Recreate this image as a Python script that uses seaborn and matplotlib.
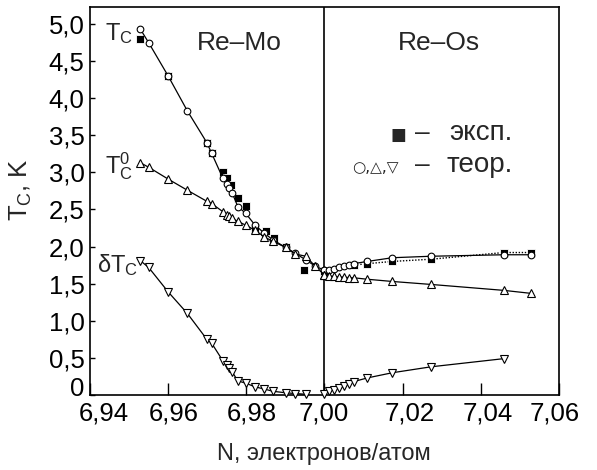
import matplotlib
matplotlib.use("Agg")
import matplotlib.pyplot as plt
import matplotlib.transforms as mtransforms
from matplotlib.ticker import FixedLocator, FuncFormatter
import seaborn as sns

# ---- data: Re-Mo side (N < 7) ----
n_mo = [6.9530, 6.9551, 6.9601, 6.9650, 6.9700, 6.9712, 6.9741, 6.9751, 6.9756,
        6.9765, 6.9779, 6.9799, 6.9823, 6.9847, 6.9869, 6.9901, 6.9926, 6.9953,
        6.9976, 7.0000]
tc_mo = [4.93, 4.75, 4.30, 3.83, 3.40, 3.26, 2.92, 2.85, 2.79, 2.72, 2.54, 2.45,
         2.29, 2.18, 2.09, 1.99, 1.91, 1.82, 1.74, 1.68]
tc0_mo = [3.13, 3.07, 2.91, 2.76, 2.61, 2.58, 2.47, 2.43, 2.41, 2.38, 2.34, 2.29,
          2.22, 2.13, 2.07, 1.99, 1.90, 1.87, 1.74, 1.62]
n_dtc_mo = [6.9530, 6.9551, 6.9601, 6.9650, 6.9700, 6.9712, 6.9741, 6.9751, 6.9756,
            6.9765, 6.9779, 6.9799, 6.9823, 6.9847, 6.9869, 6.9901, 6.9926, 6.9953]
dtc_mo = [1.81, 1.72, 1.39, 1.10, 0.75, 0.70, 0.46, 0.40, 0.36, 0.31, 0.19, 0.16,
          0.11, 0.08, 0.05, 0.03, 0.02, 0.01]

# ---- data: Re-Os side (N > 7) ----
n_os = [7.0000, 7.0013, 7.0025, 7.0038, 7.0051, 7.0064, 7.0075, 7.0110, 7.0174,
        7.0273, 7.0459, 7.0528]
tc_os = [1.68, 1.68, 1.70, 1.72, 1.74, 1.75, 1.77, 1.80, 1.85, 1.87, 1.89, 1.89]
tc0_os = [1.62, 1.60, 1.60, 1.59, 1.59, 1.58, 1.58, 1.56, 1.53, 1.49, 1.41, 1.37]
n_dtc_os = [7.0000, 7.0013, 7.0025, 7.0038, 7.0051, 7.0064, 7.0075, 7.0110, 7.0174,
            7.0273, 7.0459]
dtc_os = [0.02, 0.05, 0.07, 0.09, 0.12, 0.15, 0.18, 0.23, 0.30, 0.38, 0.49]

# ---- experimental Tc ----
n_exp_mo = [6.9530, 6.9601, 6.9700, 6.9712, 6.9741, 6.9751, 6.9762, 6.9779, 6.9799,
            6.9823, 6.9851, 6.9871, 6.9901, 6.9949]
tc_exp_mo = [4.80, 4.30, 3.40, 3.26, 3.01, 2.92, 2.83, 2.66, 2.55, 2.25, 2.21, 2.11,
             2.00, 1.69]
n_exp_os = [7.0000, 7.0075, 7.0110, 7.0174, 7.0273, 7.0459, 7.0528]
tc_exp_os = [1.67, 1.75, 1.77, 1.80, 1.83, 1.92, 1.92]

x_ticks = [6.94, 6.96, 6.98, 7.00, 7.02, 7.04, 7.06]
y_ticks = [0, 0.5, 1.0, 1.5, 2.0, 2.5, 3.0, 3.5, 4.0, 4.5, 5.0]

sns.set_style("ticks")
plt.rcParams["font.family"] = ["Liberation Sans", "DejaVu Sans"]
plt.rcParams["mathtext.fontset"] = "custom"
plt.rcParams["mathtext.rm"] = "Liberation Sans"
plt.rcParams["mathtext.it"] = "Liberation Sans:italic"

fig = plt.figure(figsize=(5.97, 4.70), dpi=100)
W, H = 597, 470
ax = fig.add_axes([89.5 / W, 75 / H, (559 - 89.5) / W, (395 - 6.7) / H])

sq_kw = dict(marker="s", color="black", markersize=6.3, markeredgewidth=0.6)

# experimental points (under the theoretical ones)
sns.lineplot(x=n_exp_mo, y=tc_exp_mo, ax=ax, linestyle="none", sort=False,
             zorder=2, **sq_kw)
sns.lineplot(x=n_exp_os, y=tc_exp_os, ax=ax, linestyle=(0, (1, 1.2)), lw=1.0,
             sort=False, zorder=2, **sq_kw)

line_kw = dict(color="black", lw=0.9, markerfacecolor="white",
               markeredgecolor="black", markeredgewidth=0.8, sort=False, zorder=3)

for xs, ys in [(n_mo, tc_mo), (n_os, tc_os)]:
    sns.lineplot(x=xs, y=ys, ax=ax, marker="o", markersize=4.8, **line_kw)
for xs, ys in [(n_mo, tc0_mo), (n_os, tc0_os)]:
    sns.lineplot(x=xs, y=ys, ax=ax, marker="^", markersize=5.8, **line_kw)
for xs, ys in [(n_dtc_mo, dtc_mo), (n_dtc_os, dtc_os)]:
    sns.lineplot(x=xs, y=ys, ax=ax, marker="v", markersize=5.8, clip_on=False,
                 **line_kw)

ax.axvline(7.0, color="black", lw=1.2, zorder=1)

ax.set_xlim(6.94, 7.06)
ax.set_ylim(0, 5.233)

for s in ax.spines.values():
    s.set_visible(True)
    s.set_linewidth(1.2)
    s.set_color("black")

ax.xaxis.set_major_locator(FixedLocator(x_ticks))
ax.yaxis.set_major_locator(FixedLocator(y_ticks))
ax.xaxis.set_major_formatter(FuncFormatter(lambda v, p: f"{v:.2f}".replace(".", ",")))
ax.yaxis.set_major_formatter(
    FuncFormatter(lambda v, p: "0" if abs(v) < 1e-9 else f"{v:.1f}".replace(".", ",")))
ax.tick_params(axis="x", direction="in", length=8.6, width=1.0, labelsize=18.5,
               pad=5, colors="black", top=False)
ax.tick_params(axis="y", direction="in", length=3.6, width=1.0, labelsize=18.5,
               pad=3.5, colors="black", right=False)

ax.set_xlabel("N, электронов/атом", fontsize=17, labelpad=12)
ax.set_ylabel(r"$\mathregular{T_C}$, K", fontsize=18.5, labelpad=2)
ax.yaxis.set_label_coords(-0.118, 0.53)

# curve labels
ax.text(6.9439, 4.78, r"$\mathregular{T_C}$", fontsize=17, ha="left", va="baseline")
ax.text(6.9439, 2.99, r"$\mathregular{T_C^0}$", fontsize=17, ha="left", va="baseline")
ax.text(6.9420, 1.66, r"$\mathregular{δT_C}$", fontsize=17, ha="left", va="baseline")

# alloy systems
ax.text(6.9784, 4.65, "Re–Mo", fontsize=19, ha="center", va="baseline")
ax.text(7.0293, 4.65, "Re–Os", fontsize=19, ha="center", va="baseline")

# symbol key
ax.text(7.0189, 3.44, "■", fontsize=12, ha="center", va="baseline",
        family=["DejaVu Sans"])
ax.text(7.0250, 3.44, "–", fontsize=19, ha="center", va="baseline")
ax.text(7.0319, 3.44, "эксп.", fontsize=20, ha="left", va="baseline")
ax.text(7.0191, 3.01, "○,△,▽", fontsize=11, ha="right", va="baseline",
        family=["DejaVu Sans"])
ax.text(7.0250, 3.01, "–", fontsize=19, ha="center", va="baseline")
ax.text(7.0313, 3.01, "теор.", fontsize=20, ha="left", va="baseline")

# small per-label nudges of the tick labels
x_shift = {0: 10, 1: 4, 2: 4, 3: 0, 4: 5, 5: 5, 6: -3}
for i, lab in enumerate(ax.get_xticklabels()):
    dx = x_shift.get(i, 0)
    lab.set_transform(lab.get_transform() +
                      mtransforms.ScaledTranslation(dx / 72, 0, fig.dpi_scale_trans))
ylab0 = ax.get_yticklabels()[0]
ylab0.set_transform(ylab0.get_transform() +
                    mtransforms.ScaledTranslation(0, 6 / 72, fig.dpi_scale_trans))

fig.savefig("out.png", dpi=100)
